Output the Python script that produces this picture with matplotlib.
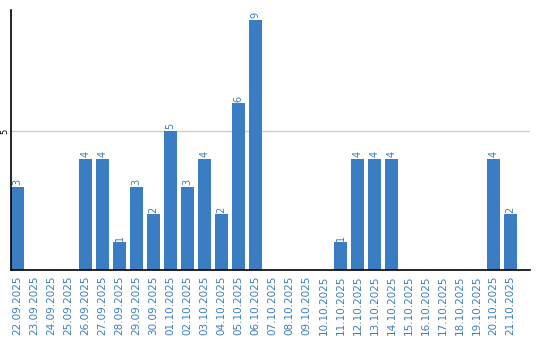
import matplotlib
matplotlib.use("Agg")
import matplotlib.pyplot as plt

dates = ["22.09.2025", "23.09.2025", "24.09.2025", "25.09.2025", "26.09.2025",
         "27.09.2025", "28.09.2025", "29.09.2025", "30.09.2025", "01.10.2025",
         "02.10.2025", "03.10.2025", "04.10.2025", "05.10.2025", "06.10.2025",
         "07.10.2025", "08.10.2025", "09.10.2025", "10.10.2025", "11.10.2025",
         "12.10.2025", "13.10.2025", "14.10.2025", "15.10.2025", "16.10.2025",
         "17.10.2025", "18.10.2025", "19.10.2025", "20.10.2025", "21.10.2025"]
values = [3, 0, 0, 0, 4, 4, 1, 3, 2, 5, 3, 4, 2, 6, 9,
          0, 0, 0, 0, 1, 4, 4, 4, 0, 0, 0, 0, 0, 4, 2]

W, H = 540, 340
fig = plt.figure(figsize=(W / 100, H / 100), dpi=100)
ax = fig.add_axes([10.5 / W, (H - 270) / H, (530 - 10.5) / W, 260 / H])

blue = "#3a7dc2"
bw = 0.82
x = list(range(len(dates)))
ax.bar(x, values, width=bw, color=blue, zorder=2)
for xi, v in zip(x, values):
    if v > 0:
        ax.text(xi, v + 0.06, str(v), rotation=90, ha="center", va="bottom",
                color=blue, fontsize=7)

ax.set_xlim(-bw / 2, -bw / 2 + (530 - 10.5) / 17)
ax.set_ylim(0, 260 / 27.8)
ax.set_xticks(x)
ax.set_xticklabels(dates, rotation=90, color=blue, fontsize=7.5)
ax.tick_params(axis="x", length=0, pad=4)
ax.set_yticks([5])
ax.set_yticklabels(["5"], rotation=90, fontsize=6, va="center")
ax.tick_params(axis="y", length=0, pad=1)
ax.axhline(5, color="#cccccc", lw=1, zorder=1)
for s in ["top", "right"]:
    ax.spines[s].set_visible(False)
ax.spines["left"].set_linewidth(1.2)
ax.spines["bottom"].set_linewidth(1.2)
ax.spines["left"].set_zorder(3)
ax.spines["bottom"].set_zorder(3)

fig.savefig("out.png", dpi=100)
